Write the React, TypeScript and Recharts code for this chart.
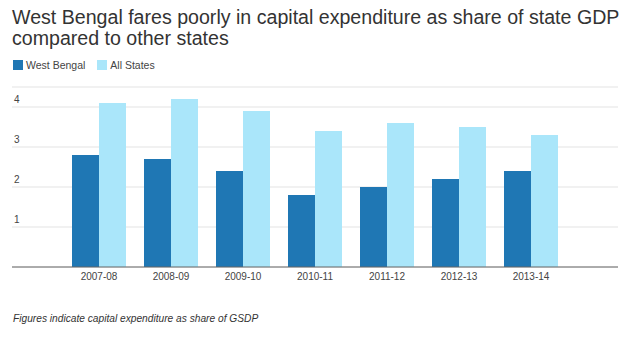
import React from "react";
import { BarChart, Bar, XAxis, YAxis, CartesianGrid } from "recharts";

// Capital expenditure as % of GSDP
const YEARS = ["2007-08", "2008-09", "2009-10", "2010-11", "2011-12", "2012-13", "2013-14"];
const WEST_BENGAL = [2.8, 2.7, 2.4, 1.8, 2.0, 2.2, 2.4];
const ALL_STATES = [4.1, 4.2, 3.9, 3.4, 3.6, 3.5, 3.3];
const Y_TICKS = [0, 1, 2, 3, 4];

const DARK = "#1f77b4";
const LIGHT = "#aae6fa";
const FONT = "'Liberation Sans', Arial, sans-serif";

const DATA = YEARS.map((year, i) => ({
  year,
  wb: WEST_BENGAL[i],
  all: ALL_STATES[i],
}));

// y labels sit just above their gridline, flush left
function YTick(props: any) {
  const { y, payload } = props;
  if (payload.value === 0) return <g />;
  return (
    <text x={14} y={y - 4} fontSize={10} fill="#444" fontFamily={FONT}>
      {payload.value}
    </text>
  );
}

function LegendItem({ color, label }: { color: string; label: string }) {
  return (
    <span style={{ display: "inline-flex", alignItems: "center", marginRight: 12 }}>
      <span style={{ width: 10, height: 10, background: color, display: "inline-block", marginRight: 3 }} />
      <span>{label}</span>
    </span>
  );
}

export default function App() {
  return (
    <div
      style={{
        position: "absolute",
        left: 0,
        top: 0,
        width: 624,
        height: 337,
        background: "#fff",
        fontFamily: FONT,
        overflow: "hidden",
      }}
    >
      <div
        style={{
          position: "absolute",
          left: 12,
          top: 7,
          fontSize: 19.6,
          lineHeight: "21px",
          color: "#333",
          whiteSpace: "nowrap",
        }}
      >
        West Bengal fares poorly in capital expenditure as share of state GDP
        <br />
        compared to other states
      </div>

      <div
        style={{
          position: "absolute",
          left: 13,
          top: 59,
          fontSize: 10.5,
          lineHeight: "12px",
          color: "#444",
          display: "flex",
        }}
      >
        <LegendItem color={DARK} label="West Bengal" />
        <LegendItem color={LIGHT} label="All States" />
      </div>

      <div style={{ position: "absolute", left: 0, top: 0 }}>
        <BarChart
          width={624}
          height={337}
          data={DATA}
          margin={{ top: 87, right: 6, bottom: 0, left: 11 }}
          barGap={0}
          barCategoryGap={9}
        >
          <CartesianGrid horizontal vertical={false} stroke="#e3e3e3" />
          <XAxis
            dataKey="year"
            padding={{ left: 51, right: 51 }}
            tickLine={false}
            tickSize={0}
            tickMargin={6}
            interval={0}
            axisLine={{ stroke: "#666" }}
            tick={{ fontSize: 10, fill: "#444", fontFamily: FONT }}
            height={70}
          />
          <YAxis
            domain={[0, 4.5]}
            ticks={Y_TICKS}
            interval={0}
            width={1}
            axisLine={false}
            tickLine={false}
            tick={YTick}
          />
          <Bar dataKey="wb" name="West Bengal" fill={DARK} barSize={27} isAnimationActive={false} />
          <Bar dataKey="all" name="All States" fill={LIGHT} barSize={27} isAnimationActive={false} />
        </BarChart>
      </div>

      <div
        style={{
          position: "absolute",
          left: 13,
          top: 313,
          fontSize: 10.2,
          lineHeight: "12px",
          fontStyle: "italic",
          color: "#333",
        }}
      >
        Figures indicate capital expenditure as share of GSDP
      </div>
    </div>
  );
}
